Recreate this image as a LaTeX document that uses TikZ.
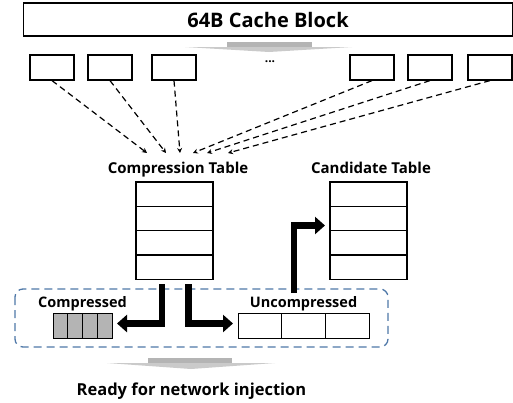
\documentclass[tikz,border=0pt]{standalone}
\usepackage{fontspec}
\setmainfont{Open Sans}
\usetikzlibrary{arrows.meta, positioning}
\definecolor{groupblue}{RGB}{79,120,168}
\definecolor{cellgray}{RGB}{180,180,180}

\begin{document}
\begin{tikzpicture}[x=1pt, y=-1pt, >=Stealth, font=\bfseries\fontsize{15}{17}\selectfont,
  word/.style={draw, line width=1.2pt, minimum width=44pt, minimum height=25pt, inner sep=0pt},
  row/.style={draw, line width=1.2pt, minimum width=77pt, minimum height=24.3pt, inner sep=0pt, outer sep=0pt},
  cell/.style={draw, line width=1pt, minimum height=25pt, inner sep=0pt, outer sep=0pt},
  tabname/.style={text depth=4pt},
  fat/.style={line width=6.5pt, -{Triangle[length=10pt, width=17pt]}},
  link/.style={-{Stealth[length=5pt, width=5pt]}, dash pattern=on 6pt off 4pt, line width=1.2pt}]
  \useasboundingbox (0,0) rectangle (513,402);

  % cache block and its words
  \node[draw, line width=1.3pt, minimum width=489pt, minimum height=33pt,
        font=\bfseries\fontsize{20}{24}\selectfont] (block) at (268,19.5) {64B Cache Block};
  \fill[cellgray] (227,42) rectangle (312,47);
  \fill[cellgray!70] (185,47) -- (352,47) -- (269,52) -- cycle;
  \foreach \i/\cx in {1/52, 2/110, 3/174, 4/372, 5/430, 6/490}
    \node[word] (w\i) at (\cx,67.5) {};
  \node[font=\bfseries\fontsize{12}{14}\selectfont] (dots) at (270,62) {...};

  % compression and candidate tables
  \node[row] (ct1) at (174.5,194.2) {};
  \node[row, below=0pt of ct1] (ct2) {};
  \node[row, below=0pt of ct2] (ct3) {};
  \node[row, below=0pt of ct3] (ct4) {};
  \node[tabname, above=1pt of ct1, xshift=3.5pt] (ctname) {Compression Table};
  \node[row] (cd1) at (368.5,194.2) {};
  \node[row, below=0pt of cd1] (cd2) {};
  \node[row, below=0pt of cd2] (cd3) {};
  \node[row, below=0pt of cd3] (cd4) {};
  \node[tabname, above=1pt of cd1, xshift=2.5pt] (cdname) {Candidate Table};

  \foreach \i/\ex in {1/147, 2/166, 3/180, 4/193, 5/207, 6/228} {
    \coordinate (t\i) at (\ex,153);
    \draw[link] (w\i.south) -- (t\i);
  }

  % output buffers
  \draw[groupblue, line width=1.3pt, dash pattern=on 8pt off 5pt, rounded corners=8pt]
    (15,289) rectangle (388,347);
  \foreach \k in {1,...,4}
    \node[cell, fill=cellgray, minimum width=14.75pt] (cp\k) at (53+14.75*\k-7.375,325.5) {};
  \foreach \k in {1,...,3}
    \node[cell, minimum width=43.67pt] (uc\k) at (238+43.67*\k-21.83,325.5) {};
  \node[above=-1.5pt of cp2.north east, font=\bfseries\fontsize{14.5}{17}\selectfont] (cpname) {Compressed};
  \node[above=-1.5pt of uc2.north, font=\bfseries\fontsize{14.5}{17}\selectfont] (ucname) {Uncompressed};

  \draw[fat, shorten >=5pt] ([xshift=-12.5pt, yshift=-5pt]ct4.south) |- ([yshift=2pt]cp4.east);
  \draw[fat, shorten >=5pt] ([xshift=14pt, yshift=-5pt]ct4.south) |- ([yshift=2pt]uc1.west);
  \coordinate (up) at (294,293);
  \draw[fat, shorten >=5pt] (up) |- ([yshift=-7pt]cd2.west);

  % sent to the network
  \fill[cellgray] (148,358) rectangle (232,363);
  \fill[cellgray!70] (107,363) -- (275,363) -- (191,369) -- cycle;
  \node[anchor=base, font=\bfseries\fontsize{16.5}{20}\selectfont] (ready) at (191.5,395.7) {Ready for network injection};
\end{tikzpicture}
\end{document}
